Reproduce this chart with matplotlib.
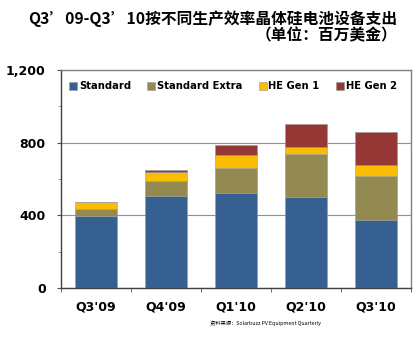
import matplotlib
matplotlib.use("Agg")
import matplotlib.pyplot as plt
import numpy as np

plt.rcParams['font.family'] = ['Noto Sans CJK SC', 'DejaVu Sans']

categories = ["Q3'09", "Q4'09", "Q1'10", "Q2'10", "Q3'10"]
standard = [394, 505, 523, 499, 372]
standard_extra = [43, 86, 136, 241, 243]
he_gen1 = [38, 48, 72, 35, 63]
he_gen2 = [0, 13, 55, 128, 179]
series_names = ["Standard", "Standard Extra", "HE Gen 1", "HE Gen 2"]
colors = ["#35608F", "#928A50", "#FBBC04", "#953735"]
yticks = [0, 400, 800, 1200]
ytick_labels = ["0", "400", "800", "1,200"]

fig = plt.figure(figsize=(4.2, 3.39), dpi=100)
ax = fig.add_axes([61/420, 1-288/339, 350/420, 218/339])

x = np.arange(len(categories))
bottom = np.zeros(len(categories))
for vals, name, c in zip([standard, standard_extra, he_gen1, he_gen2], series_names, colors):
    ax.bar(x, vals, bottom=bottom, width=0.59, color=c, label=name, zorder=3,
           edgecolor='#9a9a9a', linewidth=0.4)
    bottom += np.array(vals)

ax.set_xlim(-0.5, len(categories)-0.5)
ax.set_ylim(0, 1200)
ax.set_yticks(yticks)
ax.set_yticklabels(ytick_labels, fontsize=9, fontweight='bold', family='DejaVu Sans')
ax.set_xticks(x)
ax.set_xticklabels(categories, fontsize=9, fontweight='bold', family='DejaVu Sans')
ax.set_xticks(np.arange(len(categories)+1)-0.5, minor=True)
ax.tick_params(axis='x', which='major', length=0, pad=9)
ax.tick_params(axis='x', which='minor', length=3, color='#555555')
ax.tick_params(axis='y', length=3, color='#555555', pad=8)
ax.set_yticks([200, 600, 1000], minor=True)
ax.tick_params(axis='y', which='minor', length=2, color='#888888')
ax.grid(axis='y', which='major', color='#909090', linewidth=0.8, zorder=0)
for s in ax.spines.values():
    s.set_color('#808080')
    s.set_linewidth(1.0)
ax.spines['left'].set_color('#404040')
ax.spines['bottom'].set_color('#404040')

leg = ax.legend(loc='upper left', bbox_to_anchor=(0.0, 0.985), ncol=4, frameon=False,
                prop={'size': 7.2, 'weight': 'bold', 'family': 'DejaVu Sans'},
                handlelength=0.8, handleheight=0.8, handletextpad=0.2,
                columnspacing=1.6, borderaxespad=0.4)

fig.text(397/420, 1-19/339, "Q3’09-Q3’10按不同生产效率晶体硅电池设备支出", ha='right', va='center',
         fontsize=11.3, fontweight='bold')
fig.text(397/420, 1-35/339, "（单位：百万美金）", ha='right', va='center', fontsize=11.3,
         fontweight='bold')
fig.text(265/420, 1-323/339, "资料来源：Solarbuzz PV Equipment Quarterly", ha='center', va='center',
         fontsize=3.8)

fig.savefig("out.png", dpi=100)
